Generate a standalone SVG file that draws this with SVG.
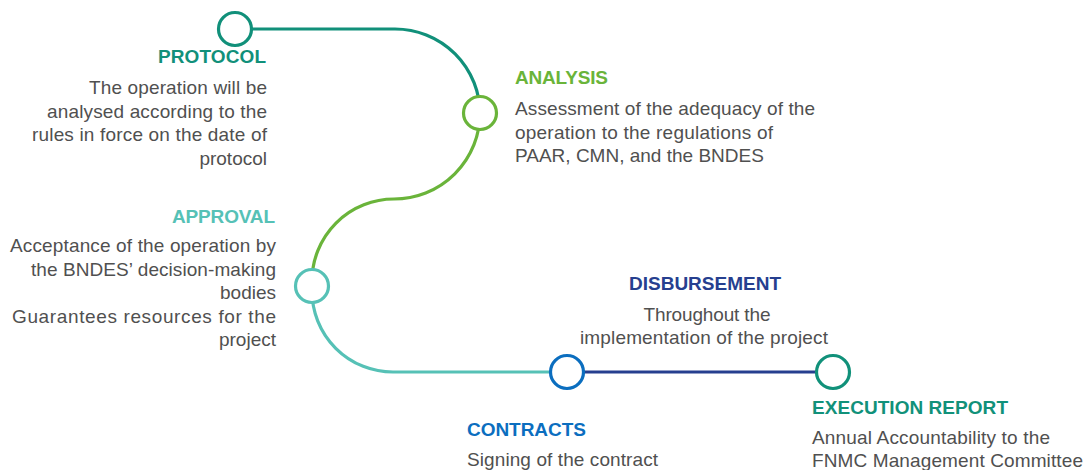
<svg xmlns="http://www.w3.org/2000/svg" width="1086" height="470" viewBox="0 0 1086 470">
  <style>
    .title { font-family: "Liberation Sans", Arial, sans-serif; font-size: 19px; font-weight: bold; }
    .body { font-family: "Liberation Sans", Arial, sans-serif; font-size: 19px; fill: #505050; }
    .end { text-anchor: end; }
    .mid { text-anchor: middle; }
    .conn { fill: none; stroke-width: 3.2; }
    .dot { fill: #ffffff; stroke-width: 3.2; }
    .c-protocol { stroke: #11907a; }
    .c-analysis { stroke: #6ab43a; }
    .c-approval { stroke: #56c1b6; }
    .c-contracts { stroke: #0b6ebf; }
    .c-disburse { stroke: #263f8f; }
    .c-exec { stroke: #11917a; }
  </style>
  <rect width="1086" height="470" fill="#ffffff"/>

  <!-- timeline connectors -->
  <g id="connectors">
    <path class="conn c-protocol" d="M235,29 H395 A85,85 0 0 1 480,114"/>
    <path class="conn c-analysis" d="M480,113 A86,86 0 0 1 394,199 A82,82 0 0 0 312,281 V286"/>
    <path class="conn c-approval" d="M312,286 V291 A81,81 0 0 0 393,372 H567"/>
    <path class="conn c-disburse" d="M567,372 H833"/>
  </g>

  <g id="protocol">
    <circle class="dot c-protocol" cx="235" cy="29" r="16.5"/>
    <text class="title end" x="266" y="63" fill="#11907a" textLength="108">PROTOCOL</text>
    <text class="body end" x="267" y="94" textLength="178">The operation will be</text>
    <text class="body end" x="267" y="117.5" textLength="220">analysed according to the</text>
    <text class="body end" x="267" y="141" textLength="235">rules in force on the date of</text>
    <text class="body end" x="267" y="164.5">protocol</text>
  </g>

  <g id="analysis">
    <circle class="dot c-analysis" cx="480" cy="113" r="16.5"/>
    <text class="title" x="515" y="84" fill="#6ab43a" textLength="93">ANALYSIS</text>
    <text class="body" x="515" y="115" textLength="300">Assessment of the adequacy of the</text>
    <text class="body" x="515" y="138.5" textLength="258">operation to the regulations of</text>
    <text class="body" x="515" y="162">PAAR, CMN, and the BNDES</text>
  </g>

  <g id="approval">
    <circle class="dot c-approval" cx="312" cy="286" r="16.5"/>
    <text class="title end" x="275" y="223" fill="#56c1b6" textLength="103">APPROVAL</text>
    <text class="body end" x="276" y="252" textLength="266">Acceptance of the operation by</text>
    <text class="body end" x="276" y="275.5" textLength="245">the BNDES’ decision-making</text>
    <text class="body end" x="276" y="299">bodies</text>
    <text class="body end" x="276" y="322.5" textLength="264">Guarantees resources for the</text>
    <text class="body end" x="276" y="346">project</text>
  </g>

  <g id="contracts">
    <circle class="dot c-contracts" cx="567" cy="372" r="16.5"/>
    <text class="title" x="467" y="436" fill="#0b6ebf" textLength="119">CONTRACTS</text>
    <text class="body" x="467" y="466" textLength="191">Signing of the contract</text>
  </g>

  <g id="disbursement">
    <text class="title mid" x="705" y="290" fill="#263f8f" textLength="152">DISBURSEMENT</text>
    <text class="body mid" x="707" y="321" textLength="127">Throughout the</text>
    <text class="body mid" x="704" y="344" textLength="248">implementation of the project</text>
  </g>

  <g id="execution-report">
    <circle class="dot c-exec" cx="833" cy="372" r="16.5"/>
    <text class="title" x="812" y="414" fill="#11917a" textLength="196">EXECUTION REPORT</text>
    <text class="body" x="812" y="444" textLength="238">Annual Accountability to the</text>
    <text class="body" x="812" y="466.5" textLength="271">FNMC Management Committee</text>
  </g>
</svg>
